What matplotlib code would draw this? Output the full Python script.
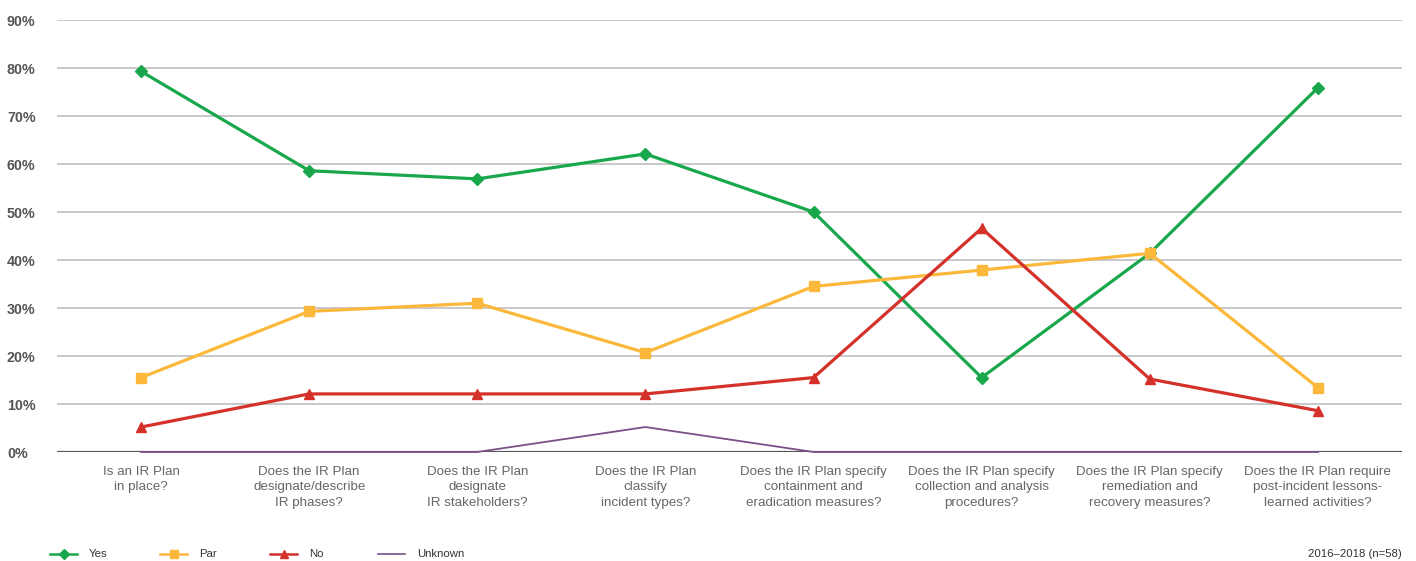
import matplotlib
matplotlib.use("Agg")
import matplotlib.pyplot as plt
from matplotlib.lines import Line2D

plt.rcParams['font.family'] = ['Liberation Sans', 'DejaVu Sans']

categories = [
    "Is an IR Plan\nin place?",
    "Does the IR Plan\ndesignate/describe\nIR phases?",
    "Does the IR Plan\ndesignate\nIR stakeholders?",
    "Does the IR Plan\nclassify\nincident types?",
    "Does the IR Plan specify\ncontainment and\neradication measures?",
    "Does the IR Plan specify\ncollection and analysis\nprocedures?",
    "Does the IR Plan specify\nremediation and\nrecovery measures?",
    "Does the IR Plan require\npost-incident lessons-\nlearned activities?",
]
yes = [79.3, 58.6, 56.9, 62.1, 50.0, 15.5, 41.4, 75.9]
par = [15.5, 29.3, 31.0, 20.7, 34.5, 37.9, 41.4, 13.4]
no = [5.2, 12.1, 12.1, 12.1, 15.5, 46.6, 15.2, 8.6]
unknown = [0, 0, 0, 5.2, 0, 0, 0, 0]
yticks = [0, 10, 20, 30, 40, 50, 60, 70, 80, 90]
ytick_labels = [f"{v}%" for v in yticks]
series_names = ["Yes", "Par", "No", "Unknown"]
footnote = "2016\u20132018 (n=58)"

GREEN = "#18a84b"
YELLOW = "#fbb83b"
RED = "#d5312b"
PURPLE = "#7a4f8a"

W, H = 1416, 561
fig = plt.figure(figsize=(W / 100, H / 100), dpi=100)
ax = fig.add_axes([57 / W, 1 - 452 / H, (1402 - 57) / W, (452 - 20) / H])

x = list(range(len(categories)))
ax.set_xlim(-0.5, len(categories) - 0.5)
ax.set_ylim(0, 90)

for v in yticks[1:]:
    ax.axhline(v, color="#c4c4c4", lw=1.3, zorder=0)
ax.axhline(0, color="#555555", lw=2.3, zorder=1)

styles = [
    (yes, GREEN, "D", 6.5, 2.3),
    (par, YELLOW, "s", 7.0, 2.3),
    (no, RED, "^", 7.0, 2.3),
]
for vals, c, m, ms, lw in styles:
    ax.plot(x, vals, color=c, marker=m, markersize=ms, lw=lw, clip_on=False, zorder=3)
ax.plot(x, unknown, color=PURPLE, lw=1.3, clip_on=False, zorder=4)

for s in ax.spines.values():
    s.set_visible(False)

ax.set_yticks(yticks)
ax.set_yticklabels(ytick_labels, fontsize=10.3, fontweight="bold", color="#555555")
ax.tick_params(axis="y", length=0, pad=36)
for lab in ax.get_yticklabels():
    lab.set_horizontalalignment("left")

ax.set_xticks(x)
ax.set_xticklabels(categories, fontsize=9.6, color="#666666", linespacing=1.38)
ax.tick_params(axis="x", length=0, pad=10)

# legend drawn manually
leg_y = 1 - 554 / H
leg_items = [
    (50, GREEN, "D", 5.5, 1.8, "Yes"),
    (160, YELLOW, "s", 6.0, 1.8, "Par"),
    (270, RED, "^", 6.0, 1.8, "No"),
    (378, PURPLE, None, 0, 1.2, "Unknown"),
]
for x0, c, m, ms, lw, name in leg_items:
    fig.add_artist(Line2D([x0 / W, (x0 + 27) / W], [leg_y, leg_y], color=c, lw=lw))
    if m:
        fig.add_artist(Line2D([(x0 + 13.5) / W], [leg_y], color=c, marker=m, markersize=ms))
    fig.text((x0 + 39) / W, leg_y, name, fontsize=8.2, color="#333333", va="center", ha="left")

fig.text(1402 / W, leg_y, footnote, fontsize=8.2, color="#333333", va="center", ha="right")

fig.savefig("out.png", dpi=100)
